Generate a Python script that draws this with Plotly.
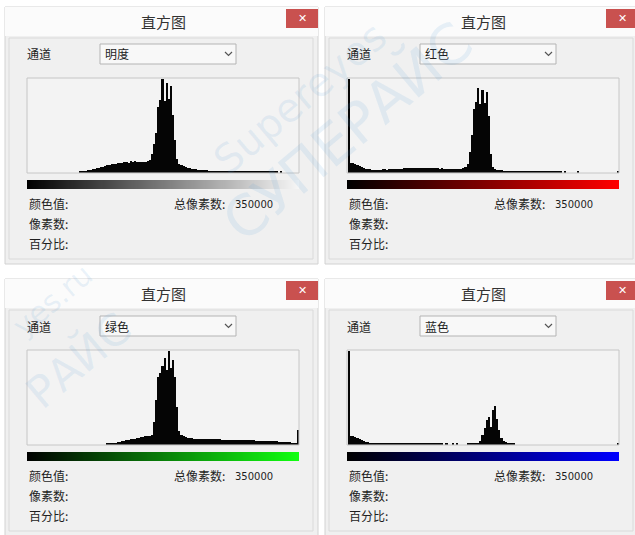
import plotly.graph_objects as go

W, H = 635, 535
CJK = "Noto Sans CJK SC"

# Histogram bins: 128 bins, 2 grey levels each (centre positions)
levels = list(range(1, 256, 2))

# Relative pixel counts per bin (percent of the tallest bin)
brightness = [
    0, 0, 0, 0, 0, 0, 0, 0, 0, 0, 0, 0, 0, 0, 0, 0,
    0, 0, 0, 0, 0, 0, 0, 0, 0.8, 1.2, 1.6, 2.0, 2.5, 3.0, 3.4, 3.9,
    4.5, 5.0, 5.6, 6.2, 6.9, 7.5, 8.2, 8.6, 9.0, 9.6, 10.0, 10.4, 10.1, 10.9, 11.2, 10.7,
    11.8, 11.4, 12.0, 11.6, 11.1, 11.7, 10.9, 11.4, 11.9, 13.5, 20, 31, 42, 70, 78, 100,
    76, 96, 79, 92, 62, 35, 14, 9.5, 7.8, 6.6, 5.7, 5.0, 4.5, 4.1, 3.7, 3.4,
    3.1, 2.9, 2.7, 2.5, 2.3, 2.1, 1.9, 1.7, 1.5, 1.3, 1.2, 1.1, 1.0, 1.0, 1.0, 1.0,
    1.0, 1.0, 1.0, 1.0, 1.0, 1.0, 1.0, 1.0, 1.0, 1.0, 1.0, 1.0, 1.0, 1.0, 1.0, 1.0,
    0.9, 0.9, 0.9, 0.9, 0.9, 0.9, 0, 0.9, 0, 0, 0, 0, 0, 0, 0, 0,
]
red = [
    160, 10.5, 10.0, 9.0, 7.8, 6.8, 5.6, 4.8, 4.1, 3.6, 3.3, 3.1, 3.0, 3.1, 3.2, 3.0,
    3.3, 3.4, 3.2, 3.5, 3.6, 3.8, 3.7, 4.0, 4.2, 4.1, 4.4, 4.6, 4.5, 4.8, 5.0, 4.9,
    5.2, 5.1, 5.3, 5.0, 5.2, 4.9, 5.0, 4.7, 4.8, 4.5, 4.4, 4.2, 4.3, 4.0, 4.1, 3.9,
    4.0, 3.8, 3.9, 3.7, 3.9, 4.1, 4.6, 5.8, 9, 22, 40, 68, 75, 90, 73, 88,
    74, 86, 60, 20, 6.0, 4.0, 3.0, 2.6, 2.3, 2.1, 1.9, 1.8, 1.6, 1.5, 1.4, 1.3,
    1.2, 1.0, 1.0, 1.0, 1.0, 1.0, 1.0, 1.0, 1.0, 1.0, 1.0, 1.0, 1.0, 1.0, 1.0, 1.0,
    1.0, 1.0, 1.0, 1.0, 1.0, 0, 0.9, 0, 0, 0, 0, 0, 0.9, 0, 0, 0,
    0, 0, 0, 0, 0, 0, 0, 0, 0, 0, 0, 0, 0, 0, 0, 1.2,
]
green = [
    0, 0, 0, 0, 0, 0, 0, 0, 0, 0, 0, 0, 0, 0, 0, 0,
    0, 0, 0, 0, 0, 0, 0, 0, 0, 0, 0, 0, 0, 0, 0, 0,
    0, 0, 0, 0, 0, 0.6, 0.9, 1.2, 1.6, 2.0, 2.4, 2.8, 3.3, 3.8, 4.3, 4.9,
    5.4, 5.9, 6.3, 6.9, 7.4, 7.8, 8.1, 8.6, 8.9, 9.3, 10.5, 24, 48, 72, 76, 84,
    93, 80, 100, 82, 90, 72, 40, 14, 10, 8.6, 7.8, 7.2, 6.9, 6.6, 6.4, 6.2,
    6.1, 6.0, 6.0, 5.9, 5.9, 5.8, 5.7, 5.7, 5.6, 5.5, 5.4, 5.3, 5.3, 5.2, 5.1, 5.1,
    5.0, 4.9, 4.9, 4.8, 4.7, 4.7, 4.6, 4.5, 4.4, 4.4, 4.3, 4.2, 4.1, 4.0, 4.0, 3.9,
    3.8, 3.7, 3.6, 3.5, 3.4, 3.3, 3.2, 3.1, 3.0, 2.8, 2.6, 2.4, 2.1, 1.9, 1.7, 15,
]
blue = [
    160, 9.5, 8.6, 7.6, 6.6, 5.6, 4.8, 3.9, 3.1, 2.5, 1.9, 1.4, 1.1, 1.0, 1.0, 1.0,
    1.0, 1.0, 1.0, 1.0, 1.0, 1.0, 1.0, 1.0, 1.0, 1.0, 1.0, 1.0, 1.0, 1.0, 1.0, 1.0,
    1.0, 1.0, 1.0, 1.0, 1.0, 1.0, 1.0, 1.0, 1.0, 1.0, 1.0, 1.0, 1.0, 0, 1.0, 0,
    0, 1.0, 0, 1.0, 0, 0, 0, 0, 1.0, 1.0, 1.0, 1.0, 1.0, 1.0, 4, 10,
    18, 26, 29, 19, 37, 41, 27, 15, 7, 4, 2.5, 1.5, 1.0, 0.8, 0.7, 0,
    0, 0, 0, 0, 0, 0, 0, 0, 0, 0, 0, 0, 0, 0, 0, 0,
    0, 0, 0, 0, 0, 0, 0, 0, 0, 0, 0, 0, 0, 0, 0, 0,
    0, 0, 0, 0, 0, 0, 0, 0, 0, 0, 0, 0, 0, 0, 0, 0.8,
]

channel_names = ["明度", "红色", "绿色", "蓝色"]
channel_values = [brightness, red, green, blue]
gradient_ends = ["#f6f6f6", "#ff0000", "#11ff11", "#0000ff"]
dialog_title = "直方图"
channel_label = "通道"
info_labels = ["颜色值:", "像素数:", "百分比:"]
total_label = "总像素数:"
total_pixels = "350000"

# window origins (left, top) for the four dialogs
origins = [(0, 0), (320, 0), (0, 272), (320, 272)]


def px(x):
    return x / W


def py(y):
    return 1 - y / H


shapes = []
annotations = []


def rect(x0, y0, x1, y1, fill="rgba(0,0,0,0)", line=None, lw=1, layer="below"):
    shapes.append(dict(
        type="rect", xref="paper", yref="paper",
        x0=px(x0), x1=px(x1), y0=py(y1), y1=py(y0),
        fillcolor=fill,
        line=dict(color=line if line else "rgba(0,0,0,0)", width=lw if line else 0),
        layer=layer,
    ))


def label(x, y, s, size=12, color="#1e1e1e", anchor="left", family=CJK):
    annotations.append(dict(
        x=px(x), y=py(y), xref="paper", yref="paper", text=s, showarrow=False,
        xanchor=anchor, yanchor="middle",
        font=dict(size=size, color=color, family=family),
    ))


fig = go.Figure()
layout_axes = {}

for i, ((ox, oy), name, vals, end_col) in enumerate(
        zip(origins, channel_names, channel_values, gradient_ends)):
    right = 318 + ox if ox == 0 else 640
    bottom = 264 + oy if oy == 0 else 540
    # window body and title bar
    rect(5 + ox, 7 + oy, right, bottom, fill="#f0f0f0", line="#d2d2d2")
    rect(5 + ox, 7 + oy, right, 36 + oy, fill="#fbfbfb")
    rect(9 + ox, 38 + oy, 313 + ox, 259 + oy, line="#dadada")
    # close button
    rect(286 + ox, 9 + oy, 318 + ox, 28 + oy, fill="#c9514f")
    label(302 + ox, 18.5 + oy, "✕", size=11, color="white", anchor="center",
          family="DejaVu Sans")
    label(163 + ox, 21 + oy, dialog_title, size=15, color="#333333", anchor="center")

    # channel selector
    label(25 + ox, 54 + oy, channel_label, size=12)
    rect(100 + ox, 44 + oy, 236 + ox, 64 + oy, fill="#f8f8f8", line="#b4b4b4")
    label(103 + ox, 54 + oy, name, size=12)
    shapes.append(dict(
        type="path", xref="paper", yref="paper",
        path=(f"M {px(225 + ox)},{py(52 + oy)} L {px(228.5 + ox)},{py(55.5 + oy)} "
              f"L {px(232 + ox)},{py(52 + oy)}"),
        line=dict(color="#555555", width=1.2),
    ))

    # histogram frame
    rect(27 + ox, 78 + oy, 299 + ox, 173 + oy, fill="#f3f3f3", line="#c6c6c6")

    # info texts
    label(27 + ox, 203 + oy, info_labels[0], size=12)
    label(27 + ox, 223 + oy, info_labels[1], size=12)
    label(27 + ox, 243 + oy, info_labels[2], size=12)
    label(172 + ox, 203 + oy, total_label, size=12)
    label(233 + ox, 204 + oy, total_pixels, size=10, family="DejaVu Sans")

    hx, hy = f"x{2 * i + 1}", f"y{2 * i + 1}"
    gx, gy = f"x{2 * i + 2}", f"y{2 * i + 2}"
    fig.add_trace(go.Bar(
        x=levels, y=vals, width=2, marker=dict(color="#050505", line=dict(width=0)),
        xaxis=hx, yaxis=hy, hoverinfo="skip", showlegend=False,
    ))
    fig.add_trace(go.Heatmap(
        z=[list(range(256))], x=list(range(256)),
        colorscale=[[0, "#000000"], [1, end_col]], showscale=False,
        xaxis=gx, yaxis=gy, hoverinfo="skip",
    ))
    xdom = [px(27.5 + ox), px(298.5 + ox)]
    ax_common = dict(visible=False, fixedrange=True)
    layout_axes[f"xaxis{2 * i + 1}"] = dict(domain=xdom, range=[0, 256], anchor=hy, **ax_common)
    layout_axes[f"yaxis{2 * i + 1}"] = dict(domain=[py(172.5 + oy), py(79 + oy)],
                                           range=[0, 100], anchor=hx, **ax_common)
    layout_axes[f"xaxis{2 * i + 2}"] = dict(domain=[px(27 + ox), px(299 + ox)],
                                           range=[-0.5, 255.5], anchor=gy, **ax_common)
    layout_axes[f"yaxis{2 * i + 2}"] = dict(domain=[py(189 + oy), py(180 + oy)],
                                           range=[-0.5, 0.5], anchor=gx, **ax_common)

# faint watermark
wm = "rgba(95,160,215,0.13)"
for x, y, s, size in [(300, 98, "Supereyes", 40), (348, 132, "СУПЕРАЙС", 56),
                      (52, 300, "yes.ru", 30), (78, 360, "РАЙС", 44)]:
    annotations.append(dict(
        x=px(x), y=py(y), xref="paper", yref="paper", text=s, showarrow=False,
        xanchor="center", yanchor="middle", textangle=-40,
        font=dict(size=size, color=wm, family="DejaVu Sans"),
    ))

fig.update_layout(
    width=W, height=H, margin=dict(l=0, r=0, t=0, b=0),
    paper_bgcolor="white", plot_bgcolor="rgba(0,0,0,0)",
    bargap=0, showlegend=False,
    shapes=shapes, annotations=annotations,
    **layout_axes,
)

fig.write_html("out.html", config={"displayModeBar": False})
